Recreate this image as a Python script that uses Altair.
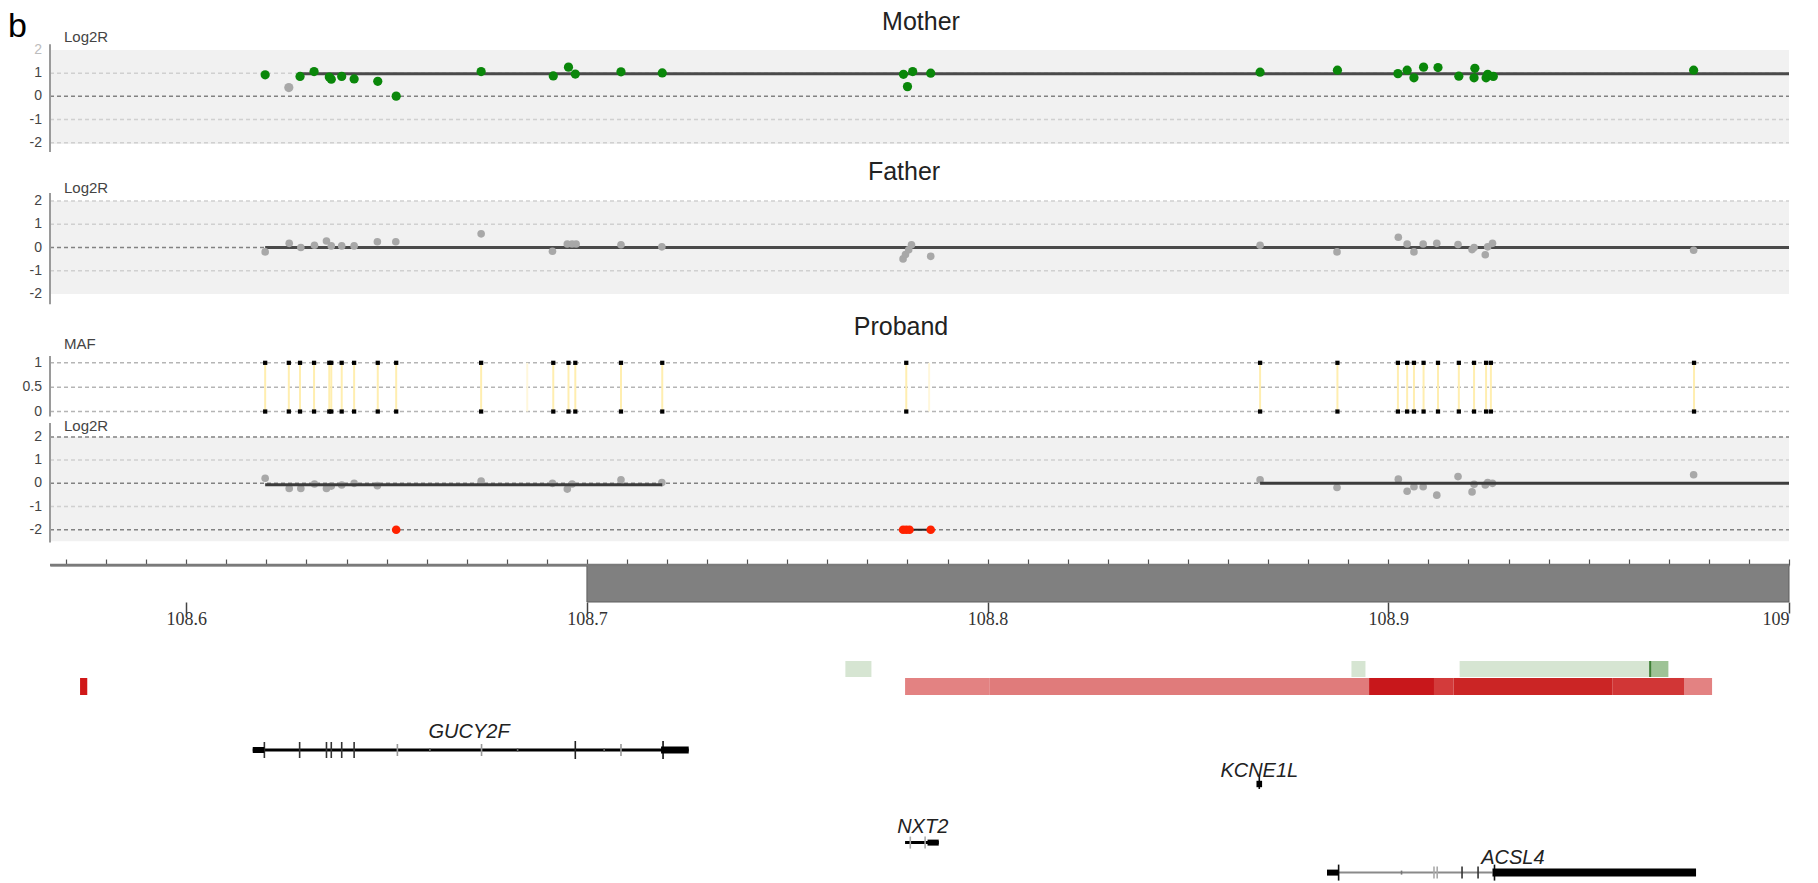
import altair as alt
import pandas as pd

# ---------------- data ----------------
X_MIN, X_MAX = 108.566, 109.0
W = 1739
UNIT = 23.2      # px per Log2R unit
UNIT_MAF = 48.7  # px per MAF unit

log2r_ticks = [2, 1, 0, -1, -2]
log2r_tick_labels = ["2", "1", "0", "-1", "-2"]
maf_ticks = [1, 0.5, 0]
maf_tick_labels = ["1", "0.5", "0"]

# Mother Log2R
mother_pos = [108.6197, 108.6256, 108.6284, 108.6319, 108.6357, 108.6362, 108.6388, 108.6419,
              108.6478, 108.6524, 108.6736, 108.6916, 108.6954, 108.6971, 108.7085, 108.7188,
              108.7790, 108.7800, 108.7813, 108.7858, 108.8680, 108.8873, 108.9024, 108.9047,
              108.9064, 108.9088, 108.9124, 108.9176, 108.9214, 108.9216, 108.9244, 108.9248,
              108.9262, 108.9762]
mother_log2r = [0.93, 0.38, 0.86, 1.07, 0.83, 0.74, 0.86, 0.75,
                0.65, 0.01, 1.07, 0.88, 1.26, 0.96, 1.06, 1.01,
                0.95, 0.42, 1.07, 1.00, 1.04, 1.13, 0.98, 1.13,
                0.80, 1.26, 1.24, 0.87, 0.80, 1.21, 0.80, 0.95,
                0.86, 1.13]
mother_call = ["gain", "normal"] + ["gain"] * 32
mother_seg_start = [108.6284]
mother_seg_end = [109.0]
mother_seg_val = [0.97]
mother_grid_dark = [0]
mother_grid_light = [1, -1, -2]

# Father Log2R
father_pos = [108.6197, 108.6257, 108.6286, 108.6320, 108.6350, 108.6362, 108.6388, 108.6419,
              108.6477, 108.6523, 108.6736, 108.6914, 108.6951, 108.6963, 108.6973, 108.7085,
              108.7187, 108.7789, 108.7795, 108.7803, 108.7810, 108.7858, 108.8680, 108.8872,
              108.9025, 108.9047, 108.9064, 108.9087, 108.9121, 108.9174, 108.9209, 108.9214,
              108.9242, 108.9248, 108.9260, 108.9762]
father_log2r = [-0.19, 0.18, 0.00, 0.10, 0.28, 0.07, 0.07, 0.07,
                0.25, 0.25, 0.59, -0.16, 0.15, 0.15, 0.15, 0.12,
                0.03, -0.49, -0.30, -0.10, 0.12, -0.38, 0.10, -0.19,
                0.44, 0.15, -0.19, 0.15, 0.18, 0.13, -0.09, 0.00,
                -0.31, 0.03, 0.18, -0.12]
father_seg_start = [108.6197]
father_seg_end = [109.0]
father_seg_val = [0.0]
father_grid_dark = [0]
father_grid_light = [2, 1, -1]

# Proband MAF
maf_pos = [108.6197, 108.6256, 108.6284, 108.6319, 108.6357, 108.6362, 108.6388, 108.6419,
           108.6478, 108.6524, 108.6736, 108.6916, 108.6954, 108.6971, 108.7085, 108.7188,
           108.7797, 108.8680, 108.8873, 108.9024, 108.9047, 108.9064, 108.9088, 108.9124,
           108.9176, 108.9214, 108.9244, 108.9256, 108.9763]
maf_faint_pos = [108.6851, 108.7854]
maf_levels = [0, 1]
maf_grid = [1, 0.5, 0]

# Proband Log2R
proband_pos = [108.6197, 108.6257, 108.6286, 108.6320, 108.6350, 108.6362, 108.6388, 108.6419,
               108.6477, 108.6736, 108.6914, 108.6951, 108.6963, 108.7085, 108.7187, 108.8680,
               108.8872, 108.9025, 108.9047, 108.9064, 108.9087, 108.9121, 108.9174, 108.9209,
               108.9214, 108.9242, 108.9248, 108.9260, 108.9762]
proband_log2r = [0.22, -0.22, -0.22, -0.03, -0.22, -0.12, -0.07, 0.00,
                 -0.10, 0.10, 0.00, -0.25, -0.03, 0.15, 0.03, 0.15,
                 -0.18, 0.18, -0.34, -0.15, -0.15, -0.51, 0.29, -0.37,
                 -0.04, -0.07, 0.03, 0.00, 0.37]
proband_del_pos = [108.6524, 108.7789, 108.7797, 108.7805, 108.7858]
proband_del_val = [-2, -2, -2, -2, -2]
proband_seg_start = [108.6197, 108.8680]
proband_seg_end = [108.7188, 109.0]
proband_seg_val = [-0.06, 0.0]
proband_del_seg_start = [108.7789]
proband_del_seg_end = [108.7858]
proband_del_seg_val = [-2.0]
proband_grid_dark = [2, 0, -2]
proband_grid_light = [1, -1]

# chromosome band
dark_band_start = [108.7]
dark_band_end = [X_MAX]
major_ticks = [108.6, 108.7, 108.8, 108.9, 109.0]
minor_ticks = [round(108.57 + 0.01 * i, 2) for i in range(44)]

# CNV tracks (rows in track units, 0 at top)
cnv_start = [108.7645, 108.8908, 108.9178, 108.9653, 108.9651,
             108.5735, 108.7794, 108.8004, 108.8952, 108.9114, 108.9163, 108.9560, 108.9738]
cnv_end = [108.7710, 108.8943, 108.9653, 108.9699, 108.9656,
           108.5753, 108.8004, 108.8952, 108.9114, 108.9163, 108.9560, 108.9738, 108.9808]
cnv_top = [3.3] * 5 + [5.0] * 8
cnv_bottom = [4.9] * 5 + [6.7] * 8
cnv_color = ["#d6e5d2", "#d6e5d2", "#d6e5d2", "#9ec396", "#3f7f36",
             "#d01818", "#e38282", "#e07b7b", "#c8171b", "#d33b3b", "#cb2525", "#d13636", "#e38282"]

# genes
gene_name = ["GUCY2F", "KCNE1L", "NXT2", "ACSL4"]
gene_label_pos = [108.6706, 108.8678, 108.7838, 108.9311]
gene_label_row = [11.0, 14.85, 20.5, 23.6]
intron_start = [108.6166, 108.7794]
intron_end = [108.7254, 108.7878]
intron_row = [12.2, 21.46]
thin_start = [108.8847]
thin_end = [108.9260]
thin_row = [24.46]
block_start = [108.6166, 108.7185, 108.8671, 108.7850, 108.8847, 108.9260]
block_end = [108.6195, 108.7254, 108.8685, 108.7878, 108.8876, 108.9768]
block_row = [12.2, 12.2, 15.6, 21.46, 24.46, 24.46]
block_half = [0.3, 0.35, 0.32, 0.3, 0.3, 0.4]
exon_pos = [108.6195, 108.6283, 108.6350, 108.6362, 108.6388, 108.6419, 108.6527, 108.6608,
            108.6737, 108.6827, 108.6971, 108.7043, 108.7085, 108.7190,
            108.8678,
            108.7807, 108.7844,
            108.8876, 108.9033, 108.9114, 108.9122, 108.9184, 108.9224, 108.9265]
exon_row = [12.2] * 14 + [15.5] + [21.46] * 2 + [24.46] * 7
exon_half = [0.8, 0.8, 0.8, 0.8, 0.8, 0.8, 0.6, 0.2, 0.6, 0.2, 0.9, 0.2, 0.6, 0.9,
             0.6,
             0.6, 0.6,
             0.8, 0.2, 0.6, 0.6, 0.6, 0.6, 0.8]
exon_color = ["#333", "#333", "#333", "#333", "#333", "#333", "#999", "#666", "#999", "#666",
              "#222", "#666", "#999", "#111",
              "#111",
              "#aaa", "#aaa",
              "#111", "#777", "#aaa", "#aaa", "#333", "#333", "#111"]

# ---------------- helpers ----------------
xscale = alt.Scale(domain=[X_MIN, X_MAX], nice=False, zero=False)
FONT = "Liberation Sans"


def axisline_layer(lo, hi, yscale):
    df = pd.DataFrame({"x": [X_MIN], "lo": [lo], "hi": [hi]})
    return alt.Chart(df).mark_rule(color="#9a9a9a", strokeWidth=2).encode(
        x=alt.X("x:Q", scale=xscale, axis=None),
        y=alt.Y("lo:Q", scale=yscale, axis=None), y2="hi:Q")


def ylabels_layer(values, labels, yscale, faded=None):
    colors = ["#bdbdbd" if (faded is not None and v == faded) else "#444444" for v in values]
    df = pd.DataFrame({"val": values, "label": labels, "c": colors})
    return alt.Chart(df).mark_text(align="right", baseline="middle", fontSize=14, font=FONT).encode(
        x=alt.value(-8),
        y=alt.Y("val:Q", scale=yscale, axis=None),
        text="label:N",
        color=alt.Color("c:N", scale=None))


def ytitle_layer(text, dy):
    df = pd.DataFrame({"t": [text]})
    return alt.Chart(df).mark_text(align="left", baseline="alphabetic", fontSize=15, font=FONT,
                                   color="#444").encode(text="t:N", x=alt.value(14), y=alt.value(dy))


def grid_layer(values, yscale, color):
    df = pd.DataFrame({"val": values, "x0": X_MIN, "x1": X_MAX})
    return alt.Chart(df).mark_rule(strokeDash=[4, 3], strokeWidth=1.5, color=color).encode(
        x=alt.X("x0:Q", scale=xscale, axis=None), x2="x1:Q",
        y=alt.Y("val:Q", scale=yscale, axis=None))


def band_layer(lo, hi, yscale):
    df = pd.DataFrame({"x0": [X_MIN], "x1": [X_MAX], "lo": [lo], "hi": [hi]})
    return alt.Chart(df).mark_rect(color="#f1f1f1").encode(
        x=alt.X("x0:Q", scale=xscale, axis=None), x2="x1:Q",
        y=alt.Y("lo:Q", scale=yscale, axis=None), y2="hi:Q")


def seg_layer(s, e, v, yscale, color="#4a4a4a", width=3):
    df = pd.DataFrame({"s": s, "e": e, "v": v})
    return alt.Chart(df).mark_rule(color=color, strokeWidth=width).encode(
        x=alt.X("s:Q", scale=xscale, axis=None), x2="e:Q",
        y=alt.Y("v:Q", scale=yscale, axis=None))


def title_layer(text, dx, dy, size=25):
    df = pd.DataFrame({"t": [text]})
    return alt.Chart(df).mark_text(fontSize=size, font=FONT, align="center", baseline="alphabetic",
                                   color="#222").encode(text="t:N", x=alt.value(dx), y=alt.value(dy))


# ---------------- Mother ----------------
ys_m = alt.Scale(domain=[-2.72, 2.3], nice=False, zero=False)
mother_df = pd.DataFrame({"pos": mother_pos, "val": mother_log2r, "call": mother_call})
mother = alt.layer(
    band_layer(-2.05, 2.0, ys_m),
    grid_layer(mother_grid_light, ys_m, "#d0d0d0"),
    grid_layer(mother_grid_dark, ys_m, "#828282"),
    axisline_layer(-2.4, 2.25, ys_m),
    ylabels_layer(log2r_ticks, log2r_tick_labels, ys_m, faded=2),
    ytitle_layer("Log2R", -1),
    seg_layer(mother_seg_start, mother_seg_end, mother_seg_val, ys_m),
    alt.Chart(mother_df).mark_circle(size=85, opacity=1).encode(
        x=alt.X("pos:Q", scale=xscale, axis=None),
        y=alt.Y("val:Q", scale=ys_m, axis=None),
        color=alt.Color("call:N", scale=alt.Scale(domain=["gain", "normal"], range=["#0a870a", "#a8a8a8"]), legend=None)),
    title_layer("Mother", 871, -13),
    alt.Chart(pd.DataFrame({"t": ["b"]})).mark_text(fontSize=34, font=FONT, align="left", baseline="alphabetic", color="#000").encode(
        text="t:N", x=alt.value(-42), y=alt.value(-6)),
).properties(width=W, height=(2.3 + 2.72) * UNIT)

# ---------------- Father ----------------
ys_f = alt.Scale(domain=[-2.88, 2.35], nice=False, zero=False)
father_df = pd.DataFrame({"pos": father_pos, "val": father_log2r})
father = alt.layer(
    band_layer(-2.0, 2.0, ys_f),
    grid_layer(father_grid_light, ys_f, "#d0d0d0"),
    grid_layer(father_grid_dark, ys_f, "#828282"),
    axisline_layer(-2.45, 2.35, ys_f),
    ylabels_layer(log2r_ticks, log2r_tick_labels, ys_f),
    ytitle_layer("Log2R", -0.5),
    seg_layer(father_seg_start, father_seg_end, father_seg_val, ys_f),
    alt.Chart(father_df).mark_circle(size=58, opacity=1, color="#a8a8a8").encode(
        x=alt.X("pos:Q", scale=xscale, axis=None),
        y=alt.Y("val:Q", scale=ys_f, axis=None)),
    title_layer("Father", 854, -13),
).properties(width=W, height=(2.35 + 2.88) * UNIT)

# ---------------- Proband MAF ----------------
ys_maf = alt.Scale(domain=[-0.14, 1.14], nice=False, zero=False)
maf_line_df = pd.DataFrame({"pos": maf_pos, "lo": 0, "hi": 1})
maf_faint_df = pd.DataFrame({"pos": maf_faint_pos, "lo": 0, "hi": 1})
maf_pts_df = pd.DataFrame([{"pos": p, "val": v} for p in maf_pos for v in maf_levels])
maf = alt.layer(
    grid_layer(maf_grid, ys_maf, "#b5b5b5"),
    axisline_layer(-0.1, 1.14, ys_maf),
    ylabels_layer(maf_ticks, maf_tick_labels, ys_maf),
    ytitle_layer("MAF", -7),
    alt.Chart(maf_faint_df).mark_rule(strokeWidth=2, color="#fff7dc").encode(
        x=alt.X("pos:Q", scale=xscale, axis=None),
        y=alt.Y("lo:Q", scale=ys_maf, axis=None), y2="hi:Q"),
    alt.Chart(maf_line_df).mark_rule(strokeWidth=2, color="#ffeeb0").encode(
        x=alt.X("pos:Q", scale=xscale, axis=None),
        y=alt.Y("lo:Q", scale=ys_maf, axis=None), y2="hi:Q"),
    alt.Chart(maf_pts_df).mark_square(size=18, color="#000", opacity=1).encode(
        x=alt.X("pos:Q", scale=xscale, axis=None),
        y=alt.Y("val:Q", scale=ys_maf, axis=None)),
    title_layer("Proband", 851, -20.8),
).properties(width=W, height=(1.14 + 0.14) * UNIT_MAF)

# ---------------- Proband Log2R ----------------
ys_p = alt.Scale(domain=[-3.2, 2.6], nice=False, zero=False)
prob_df = pd.DataFrame({"pos": proband_pos, "val": proband_log2r})
del_df = pd.DataFrame({"pos": proband_del_pos, "val": proband_del_val})
proband = alt.layer(
    band_layer(-2.5, 2.0, ys_p),
    grid_layer(proband_grid_light, ys_p, "#d0d0d0"),
    grid_layer(proband_grid_dark, ys_p, "#828282"),
    axisline_layer(-2.55, 2.6, ys_p),
    ylabels_layer(log2r_ticks, log2r_tick_labels, ys_p),
    ytitle_layer("Log2R", 8),
    alt.Chart(prob_df).mark_circle(size=58, opacity=1, color="#a8a8a8").encode(
        x=alt.X("pos:Q", scale=xscale, axis=None),
        y=alt.Y("val:Q", scale=ys_p, axis=None)),
    seg_layer(proband_seg_start, proband_seg_end, proband_seg_val, ys_p, color="#3c3c3c"),
    seg_layer(proband_del_seg_start, proband_del_seg_end, proband_del_seg_val, ys_p, color="#222", width=2),
    alt.Chart(del_df).mark_circle(size=75, opacity=1, color="#ff2200").encode(
        x=alt.X("pos:Q", scale=xscale, axis=None),
        y=alt.Y("val:Q", scale=ys_p, axis=None)),
).properties(width=W, height=(2.6 + 3.2) * UNIT)

# ---------------- chromosome band + position axis ----------------
ys_b = alt.Scale(domain=[0, 1], nice=False, zero=False)
dark_df = pd.DataFrame({"s": dark_band_start, "e": dark_band_end, "lo": 0, "hi": 1})
top_df = pd.DataFrame({"s": [X_MIN], "e": [X_MAX], "v": [1]})
ideogram = alt.layer(
    alt.Chart(dark_df).mark_rect(fill="#808080", stroke="#5e5e5e", strokeWidth=1).encode(
        x=alt.X("s:Q", scale=xscale,
                axis=alt.Axis(values=major_ticks, format=".4~g", tickSize=11, tickColor="#444", tickWidth=1.5,
                              labelFont="Liberation Serif", labelFontSize=18, labelColor="#333",
                              labelPadding=-3, domain=False, grid=False, title=None)),
        x2="e:Q",
        y=alt.Y("lo:Q", scale=ys_b, axis=None), y2="hi:Q"),
    alt.Chart(top_df).mark_rule(color="#7a7a7a", strokeWidth=2.5).encode(
        x=alt.X("s:Q", scale=xscale,
                axis=alt.Axis(values=minor_ticks, labels=False, tickSize=6, tickColor="#555", tickWidth=1.2,
                              domainColor="#6a6a6a", domainWidth=2, grid=False, title=None)),
        x2="e:Q",
        y=alt.Y("v:Q", scale=ys_b, axis=None)),
).resolve_axis(x="independent").properties(width=W, height=37)

# ---------------- CNV + gene tracks ----------------
ys_t = alt.Scale(domain=[0, 24.8], reverse=True, nice=False, zero=False)
cnv_df = pd.DataFrame({"s": cnv_start, "e": cnv_end, "top": cnv_top, "bot": cnv_bottom, "c": cnv_color})
intron_df = pd.DataFrame({"s": intron_start, "e": intron_end, "row": intron_row})
thin_df = pd.DataFrame({"s": thin_start, "e": thin_end, "row": thin_row})
block_df = pd.DataFrame({"s": block_start, "e": block_end, "row": block_row, "h": block_half})
block_df["lo"] = block_df["row"] - block_df["h"]
block_df["hi"] = block_df["row"] + block_df["h"]
exon_df = pd.DataFrame({"pos": exon_pos, "row": exon_row, "h": exon_half, "c": exon_color})
exon_df["lo"] = exon_df["row"] - exon_df["h"]
exon_df["hi"] = exon_df["row"] + exon_df["h"]
label_df = pd.DataFrame({"name": gene_name, "pos": gene_label_pos, "row": gene_label_row})

tracks = alt.layer(
    alt.Chart(cnv_df).mark_rect().encode(
        x=alt.X("s:Q", scale=xscale, axis=None), x2="e:Q",
        y=alt.Y("top:Q", scale=ys_t, axis=None), y2="bot:Q",
        color=alt.Color("c:N", scale=None)),
    alt.Chart(intron_df).mark_rule(color="#000", strokeWidth=3).encode(
        x=alt.X("s:Q", scale=xscale, axis=None), x2="e:Q",
        y=alt.Y("row:Q", scale=ys_t, axis=None)),
    alt.Chart(thin_df).mark_rule(color="#8a8a8a", strokeWidth=2).encode(
        x=alt.X("s:Q", scale=xscale, axis=None), x2="e:Q",
        y=alt.Y("row:Q", scale=ys_t, axis=None)),
    alt.Chart(exon_df).mark_rule(strokeWidth=1.6).encode(
        x=alt.X("pos:Q", scale=xscale, axis=None),
        y=alt.Y("lo:Q", scale=ys_t, axis=None), y2="hi:Q",
        color=alt.Color("c:N", scale=None)),
    alt.Chart(block_df).mark_rect(color="#000").encode(
        x=alt.X("s:Q", scale=xscale, axis=None), x2="e:Q",
        y=alt.Y("lo:Q", scale=ys_t, axis=None), y2="hi:Q"),
    alt.Chart(label_df).mark_text(fontSize=20, font=FONT, fontStyle="italic", align="center",
                                  baseline="alphabetic", color="#222").encode(
        x=alt.X("pos:Q", scale=xscale, axis=None),
        y=alt.Y("row:Q", scale=ys_t, axis=None),
        text="name:N"),
).properties(width=W, height=248)

chart = alt.vconcat(mother, father, maf, proband, ideogram, tracks, spacing=0).resolve_scale(
    y="independent"
).configure(padding={"left": 0, "top": 2, "right": 0, "bottom": 0}, font=FONT,
            view=alt.ViewConfig(stroke=None))

chart.save("out.html", embed_options={"renderer": "svg", "actions": False})
